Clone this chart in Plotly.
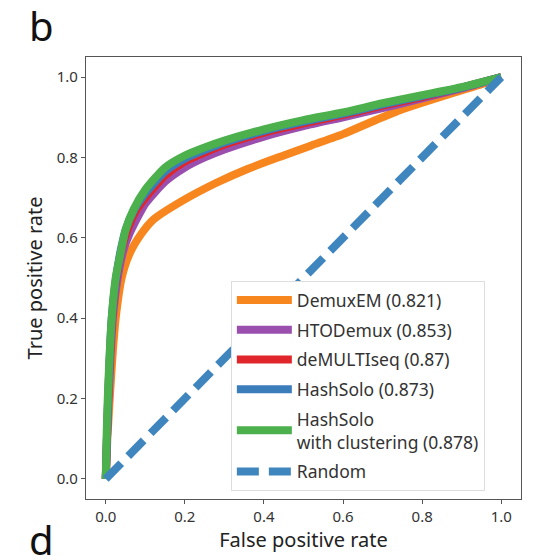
import plotly.graph_objects as go

# ---- data ----
demuxem_fpr = [0, 0.004, 0.01, 0.018, 0.025, 0.04, 0.06, 0.09, 0.12, 0.19, 0.28, 0.36, 0.45, 0.52, 0.6, 0.68, 0.75, 0.85, 0.95, 1.0]
demuxem_tpr = [0, 0.1, 0.2, 0.32, 0.4, 0.5, 0.56, 0.61, 0.645, 0.69, 0.737, 0.772, 0.805, 0.83, 0.858, 0.892, 0.92, 0.952, 0.982, 1.0]

htodemux_fpr = [0, 0.003, 0.007, 0.018, 0.03, 0.045, 0.06, 0.08, 0.1, 0.15, 0.2, 0.25, 0.3, 0.4, 0.5, 0.6, 0.7, 0.8, 0.9, 1.0]
htodemux_tpr = [0, 0.1, 0.2, 0.4, 0.5, 0.57, 0.61, 0.65, 0.685, 0.74, 0.775, 0.8, 0.82, 0.852, 0.878, 0.9, 0.923, 0.947, 0.972, 1.0]

demultiseq_fpr = [0, 0.003, 0.006, 0.016, 0.027, 0.04, 0.055, 0.075, 0.1, 0.15, 0.2, 0.3, 0.4, 0.5, 0.6, 0.7, 0.8, 0.9, 1.0]
demultiseq_tpr = [0, 0.1, 0.2, 0.4, 0.5, 0.57, 0.62, 0.665, 0.7, 0.755, 0.79, 0.832, 0.862, 0.885, 0.906, 0.929, 0.95, 0.974, 1.0]

hashsolo_fpr = [0, 0.003, 0.006, 0.015, 0.026, 0.038, 0.052, 0.072, 0.1, 0.15, 0.2, 0.3, 0.4, 0.5, 0.6, 0.7, 0.8, 0.9, 1.0]
hashsolo_tpr = [0, 0.1, 0.2, 0.4, 0.5, 0.57, 0.625, 0.67, 0.71, 0.765, 0.797, 0.837, 0.866, 0.889, 0.909, 0.932, 0.953, 0.974, 1.0]

hashsolo_cl_fpr = [0, 0.002, 0.005, 0.015, 0.025, 0.035, 0.05, 0.07, 0.1, 0.15, 0.2, 0.25, 0.3, 0.4, 0.5, 0.6, 0.7, 0.8, 0.9, 1.0]
hashsolo_cl_tpr = [0, 0.1, 0.2, 0.4, 0.5, 0.55, 0.62, 0.67, 0.72, 0.775, 0.805, 0.825, 0.842, 0.87, 0.893, 0.912, 0.935, 0.955, 0.975, 1.0]

random_x = [0, 1]
random_y = [0, 1]

series_names = ["DemuxEM (0.821)", "HTODemux (0.853)", "deMULTIseq (0.87)",
                "HashSolo (0.873)", "HashSolo<br>with clustering (0.878)", "Random"]
colors = ["#f7861f", "#9a4fae", "#e0262a", "#3b7dbb", "#4cb04c", "#3f85be"]

x_ticks = [0.0, 0.2, 0.4, 0.6, 0.8, 1.0]
y_ticks = [0.0, 0.2, 0.4, 0.6, 0.8, 1.0]
tick_labels = ["0.0", "0.2", "0.4", "0.6", "0.8", "1.0"]

FONT = "Noto Sans"
LW = 8

fig = go.Figure()
curves = [(demuxem_fpr, demuxem_tpr), (htodemux_fpr, htodemux_tpr),
          (demultiseq_fpr, demultiseq_tpr), (hashsolo_fpr, hashsolo_tpr),
          (hashsolo_cl_fpr, hashsolo_cl_tpr)]
for i, ((xs, ys), name, col) in enumerate(zip(curves, series_names[:5], colors[:5])):
    fig.add_trace(go.Scatter(x=xs, y=ys, mode="lines", name=name, legendgroup=str(i),
                             line=dict(color=col, width=LW, shape="spline", smoothing=0.6)))
fig.add_trace(go.Scatter(x=random_x, y=random_y, mode="lines", name=series_names[5],
                         legendgroup="5",
                         line=dict(color=colors[5], width=LW, dash="22px,10px")))

axis_common = dict(
    range=[-0.05, 1.05], showgrid=False, zeroline=False,
    showline=True, linecolor="#555555", linewidth=1.3, mirror=True,
    ticks="outside", ticklen=4, tickcolor="#555555", tickwidth=1,
    tickfont=dict(family=FONT, size=15, color="#333333"),
    tickvals=x_ticks, ticktext=tick_labels,
)

fig.update_layout(
    width=540, height=548,
    margin=dict(l=78, r=27, t=49, b=52),
    paper_bgcolor="white", plot_bgcolor="white",
    font=dict(family=FONT, color="#222222"),
    xaxis=dict(axis_common, title=dict(text="False positive rate",
               font=dict(family=FONT, size=20, color="#222222"), standoff=4)),
    yaxis=dict(axis_common, tickvals=y_ticks, title=dict(text="True positive rate",
               font=dict(family=FONT, size=20, color="#222222"), standoff=8)),
    legend=dict(x=0.333, y=0.493, xanchor="left", yanchor="top",
                bgcolor="white", bordercolor="#dddddd", borderwidth=1,
                font=dict(family=FONT, size=17.5, color="#333333"),
                itemwidth=55, tracegroupgap=4),
    showlegend=True,
)

fig.add_annotation(text="b", xref="paper", yref="paper", x=-0.102, y=1.071,
                   xanchor="center", yanchor="middle", showarrow=False,
                   font=dict(family=FONT, size=40, color="#111111"))
fig.add_annotation(text="d", xref="paper", yref="paper", x=-0.103, y=-0.0917,
                   xanchor="center", yanchor="middle", showarrow=False,
                   font=dict(family=FONT, size=40, color="#111111"))

fig.write_html("out.html")
